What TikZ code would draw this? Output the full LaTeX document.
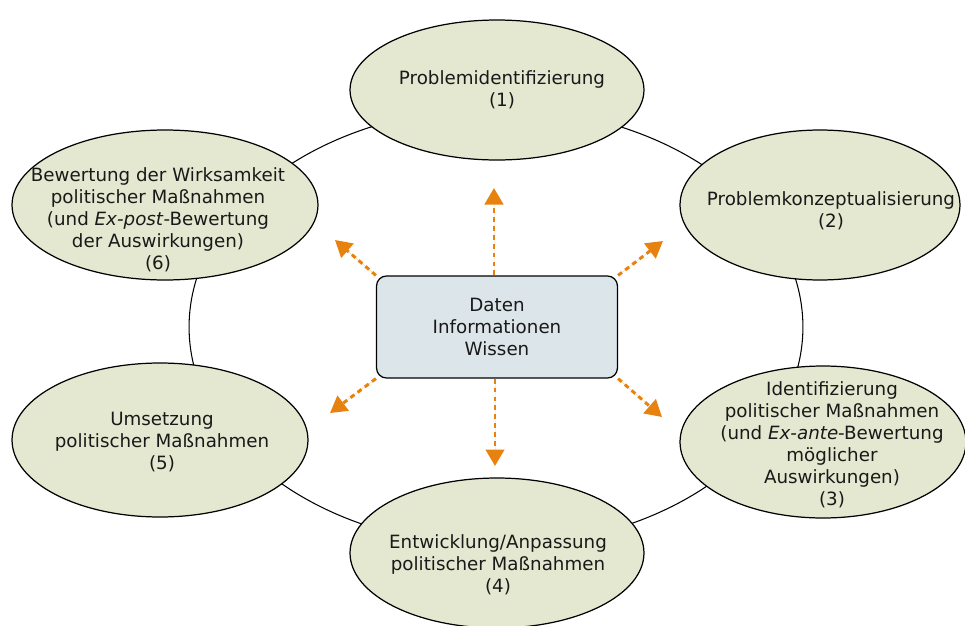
\documentclass[tikz,border=0pt]{standalone}
\usepackage{fontspec}
\setmainfont{DejaVu Sans}
\usepackage{tikz}
\usetikzlibrary{arrows.meta, positioning, shapes.geometric}
\definecolor{phasefill}{HTML}{E5E8D1}
\definecolor{boxfill}{HTML}{DCE6EA}
\definecolor{flowcol}{HTML}{E8820F}

\begin{document}
\begin{tikzpicture}[x=0.02cm, y=-0.02cm,
        phase/.style={ellipse, draw, fill=phasefill, line width=0.7pt, inner sep=0pt},
        txt/.style={align=center, text=black!90, font=\fontsize{10.4}{12.5}\selectfont},
        flow/.style={->, draw=flowcol, fill=flowcol, line width=1.7pt, dash pattern=on 2.8pt off 2.3pt},
        >={Triangle[width=0.37cm, length=0.33cm]}]
    \useasboundingbox (0,0) rectangle (965,626);
    % zyklus
    \draw[line width=0.6pt] (496,327) ellipse [x radius=6.14cm, y radius=4.38cm];
    \node[phase, minimum width=5.88cm, minimum height=2.8cm] (1) at (497,90) {};
    \node[phase, minimum width=5.6cm, minimum height=3cm] (2) at (820,205) {};
    \node[phase, minimum width=5.72cm, minimum height=3.04cm] (3) at (823,442) {};
    \node[phase, minimum width=5.88cm, minimum height=3cm] (4) at (497,553) {};
    \node[phase, minimum width=5.92cm, minimum height=3.08cm] (5) at (160,440) {};
    \node[phase, minimum width=6.12cm, minimum height=3cm] (6) at (165,205) {};
    \node[txt] (t1) at (502,90) {Problemidentifizierung\\(1)};
    \node[txt] (t2) at (831,211) {Problemkonzeptualisierung\\(2)};
    \node[txt] (t3) at (832,445) {Identifizierung\\politischer Maßnahmen\\(und \emph{Ex-ante}-Bewertung\\möglicher\\Auswirkungen)\\(3)};
    \node[txt] (t4) at (498,565) {Entwicklung/Anpassung\\politischer Maßnahmen\\(4)};
    \node[txt] (t5) at (162,442) {Umsetzung\\politischer Maßnahmen\\(5)};
    \node[txt] (t6) at (158,220) {Bewertung der Wirksamkeit\\politischer Maßnahmen\\(und \emph{Ex-post}-Bewertung\\der Auswirkungen)\\(6)};
    % mitte
    \node[draw, fill=boxfill, rounded corners=0.2cm, line width=0.7pt, minimum width=4.82cm, minimum height=2.04cm, txt] (daten) at (497,327) {Daten\\Informationen\\Wissen};
    \coordinate (a1) at (494,188);
    \coordinate (a2) at (663,241);
    \coordinate (a3) at (662,417);
    \coordinate (a4) at (495,466);
    \coordinate (a5) at (330,413);
    \coordinate (a6) at (335,240);
    \draw[flow] (a1 |- daten.north) -- (a1);
    \draw[flow] (a4 |- daten.south) -- (a4);
    \draw[flow] (daten.north east) -- (a2);
    \draw[flow] (daten.south east) -- (a3);
    \draw[flow] (daten.south west) -- (a5);
    \draw[flow] (daten.north west) -- (a6);
\end{tikzpicture}
\end{document}
